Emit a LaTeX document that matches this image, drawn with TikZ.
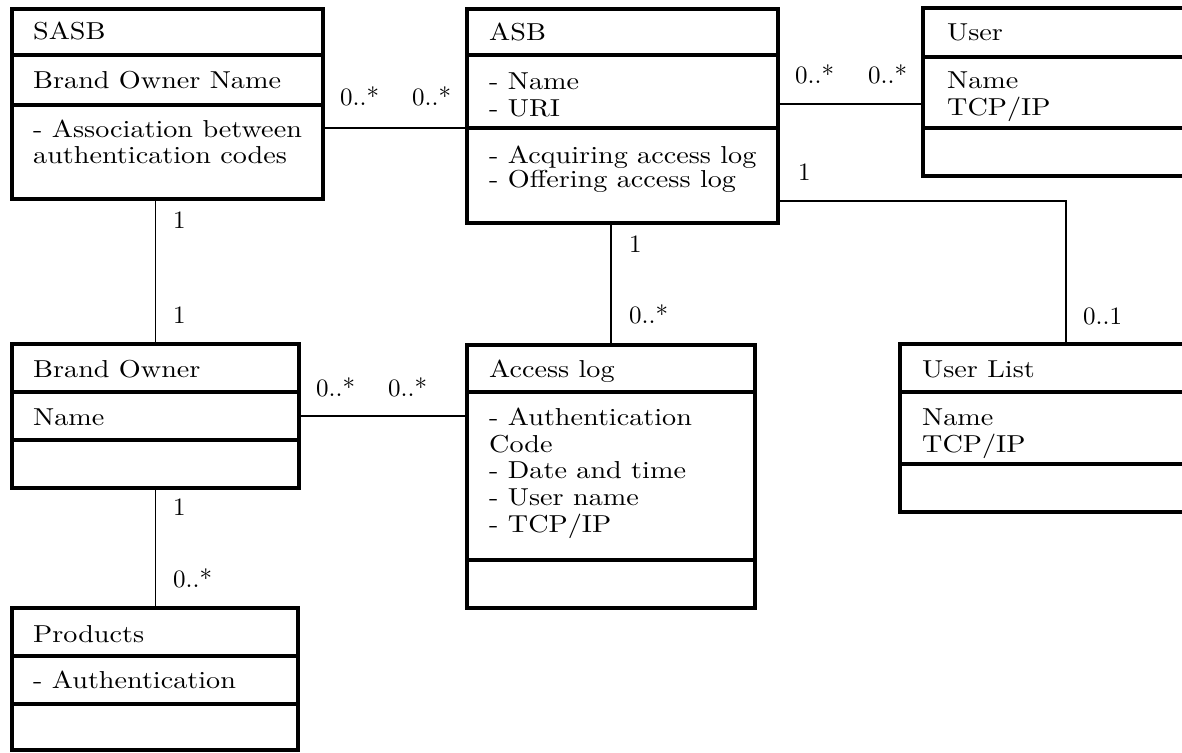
\documentclass[tikz,border=0pt]{standalone}
\usepackage{fontspec}
\setmainfont{lmroman10-regular.otf}
\usepackage{graphicx}
\tikzset{
  classbox/.style={draw, line width=3.4pt, outer sep=0pt, inner sep=0pt, anchor=north west},
  sepline/.style={line width=3.4pt},
  assoc/.style={line width=1.2pt},
  txt/.style={anchor=base west, inner sep=0pt, font=\fontsize{24.5}{26}\selectfont},
  multxt/.style={anchor=base west, inner sep=0pt, font=\fontsize{25}{26}\selectfont},
}
% class texts are set wide
\newcommand\widetxt[1]{\scalebox{1.15}[1]{#1}}

\begin{document}
\begin{tikzpicture}[x=1pt,y=-1pt]
\useasboundingbox (0,0) rectangle (1182,752);
\fill[white] (0,0) rectangle (1182,752);
\clip (0,0) rectangle (1182,752);

% ---------- class boxes ----------
\node[classbox, minimum width=311pt, minimum height=190pt] (sasb) at (12,9) {};
\node[classbox, minimum width=311pt, minimum height=214pt] (asb)  at (467,9) {};
\node[classbox, minimum width=280pt, minimum height=168pt] (user) at (923,8) {};
\node[classbox, minimum width=287pt, minimum height=144pt] (bo)   at (12,344) {};
\node[classbox, minimum width=288pt, minimum height=263pt] (acc)  at (467,345) {};
\node[classbox, minimum width=300pt, minimum height=168pt] (ulist) at (900,344) {};
\node[classbox, minimum width=286pt, minimum height=142pt] (prod) at (12,608) {};

% compartment separators
\draw[sepline] (sasb.west |- 0,55)  -- (sasb.east |- 0,55);
\draw[sepline] (sasb.west |- 0,105) -- (sasb.east |- 0,105);
\draw[sepline] (asb.west |- 0,55)   -- (asb.east |- 0,55);
\draw[sepline] (asb.west |- 0,128)  -- (asb.east |- 0,128);
\draw[sepline] (user.west |- 0,57)  -- (user.east |- 0,57);
\draw[sepline] (user.west |- 0,128) -- (user.east |- 0,128);
\draw[sepline] (bo.west |- 0,392)   -- (bo.east |- 0,392);
\draw[sepline] (bo.west |- 0,440)   -- (bo.east |- 0,440);
\draw[sepline] (acc.west |- 0,392)  -- (acc.east |- 0,392);
\draw[sepline] (acc.west |- 0,560)  -- (acc.east |- 0,560);
\draw[sepline] (ulist.west |- 0,392) -- (ulist.east |- 0,392);
\draw[sepline] (ulist.west |- 0,464) -- (ulist.east |- 0,464);
\draw[sepline] (prod.west |- 0,656) -- (prod.east |- 0,656);
\draw[sepline] (prod.west |- 0,704) -- (prod.east |- 0,704);

% ---------- class texts ----------
\node[txt] (sasbname) at (33,40)  {\widetxt{SASB}};
\node[txt] (sasba1)   at (33,88)  {\widetxt{Brand Owner Name}};
\node[txt] (sasbo1)   at (33,137) {\widetxt{- Association between}};
\node[txt] (sasbo2)   at (33,163) {\widetxt{authentication codes}};

\node[txt] (asbname) at (489,41)  {\widetxt{ASB}};
\node[txt] (asba1)   at (489,89)  {\widetxt{- Name}};
\node[txt] (asba2)   at (489,116) {\widetxt{- URI}};
\node[txt] (asbo1)   at (489,163) {\widetxt{- Acquiring access log}};
\node[txt] (asbo2)   at (489,187) {\widetxt{- Offering access log}};

\node[txt] (username) at (947,41)  {\widetxt{User}};
\node[txt] (usera1)   at (947,88)  {\widetxt{Name}};
\node[txt] (usera2)   at (947,115) {\widetxt{TCP/IP}};

\node[txt] (boname) at (33,377) {\widetxt{Brand Owner}};
\node[txt] (boa1)   at (33,425) {\widetxt{Name}};

\node[txt] (accname) at (489,377) {\widetxt{Access log}};
\node[txt] (acca1)   at (489,425) {\widetxt{- Authentication}};
\node[txt] (acca2)   at (489,452) {\widetxt{Code}};
\node[txt] (acca3)   at (489,478) {\widetxt{- Date and time}};
\node[txt] (acca4)   at (489,505) {\widetxt{- User name}};
\node[txt] (acca5)   at (489,532) {\widetxt{- TCP/IP}};

\node[txt] (ulistname) at (922,377) {\widetxt{User List}};
\node[txt] (ulista1)   at (922,425) {\widetxt{Name}};
\node[txt] (ulista2)   at (922,452) {\widetxt{TCP/IP}};

\node[txt] (prodname) at (33,642) {\widetxt{Products}};
\node[txt] (proda1)   at (33,688) {\widetxt{- Authentication}};

% ---------- associations ----------
\coordinate (ulbend) at (1066,201);
\draw[assoc] (sasb.east |- 0,128) -- (asb.west |- 0,128);
\draw[assoc] (asb.east |- 0,104) -- (user.west |- 0,104);
\draw[assoc] (asb.east |- ulbend) -- (ulbend) -- (ulbend |- ulist.north);
\draw[assoc] (bo.north |- sasb.south) -- (bo.north);
\draw[assoc] (acc.north |- asb.south) -- (acc.north);
\draw[assoc] (bo.east) -- (bo.east -| acc.west);
\draw[assoc] (bo.south) -- (bo.south |- prod.north);

% ---------- multiplicities ----------
\node[multxt] (m1)  at (340,105) {0..*};
\node[multxt] (m2)  at (412,105) {0..*};
\node[multxt] (m3)  at (795,83)  {0..*};
\node[multxt] (m4)  at (868,83)  {0..*};
\node[multxt] (m5)  at (798,180) {1};
\node[multxt] (m6)  at (1083,324) {0..1};
\node[multxt] (m7)  at (173,228) {1};
\node[multxt] (m8)  at (173,323) {1};
\node[multxt] (m9)  at (629,252) {1};
\node[multxt] (m10) at (629,323) {0..*};
\node[multxt] (m11) at (316,396) {0..*};
\node[multxt] (m12) at (388,396) {0..*};
\node[multxt] (m13) at (173,515) {1};
\node[multxt] (m14) at (173,587) {0..*};
\end{tikzpicture}
\end{document}
